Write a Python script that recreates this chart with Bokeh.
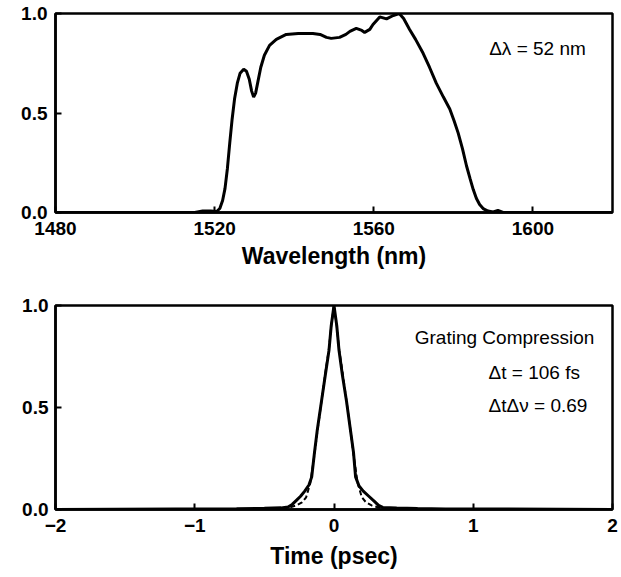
from bokeh.plotting import figure
from bokeh.layouts import column
from bokeh.models import Range1d, FixedTicker, Label
from bokeh.embed import file_html
from bokeh.resources import INLINE

# ---- Top panel: spectrum ----
wavelength = [1480, 1500, 1515, 1517, 1519, 1520.5, 1521.3, 1522, 1522.6, 1523.2,
              1523.8, 1524.4, 1525.0, 1525.7, 1526.4, 1527.3, 1528.0, 1528.7, 1529.3, 1529.8,
              1530.3, 1530.9, 1531.6, 1532.5, 1533.8, 1535.5, 1538.0, 1541, 1544.7, 1546.5,
              1548.1, 1549.3, 1551.4, 1553, 1554.0, 1555.6, 1557.0, 1557.7, 1559.0, 1559.8,
              1561.5, 1563.2, 1564.9, 1566.4, 1567.5, 1569.0, 1570.5, 1572.4, 1574, 1575.7,
              1577.5, 1579.1, 1580.2, 1581.2, 1582.3, 1583.3, 1584.2, 1585.0, 1585.8, 1586.6,
              1587.6, 1588.7, 1590, 1591.2, 1592.5, 1600, 1620]
spectrum = [0.0, 0.0, 0.0, 0.008, 0.008, 0.005, 0.02, 0.06, 0.12, 0.22,
            0.35, 0.47, 0.57, 0.65, 0.70, 0.72, 0.71, 0.67, 0.61, 0.58,
            0.60, 0.66, 0.73, 0.79, 0.84, 0.87, 0.895, 0.90, 0.90, 0.895,
            0.88, 0.875, 0.88, 0.895, 0.91, 0.925, 0.915, 0.905, 0.92, 0.945,
            0.983, 0.973, 0.99, 1.0, 0.975, 0.92, 0.87, 0.80, 0.73, 0.65,
            0.58, 0.52, 0.46, 0.40, 0.32, 0.235, 0.17, 0.115, 0.07, 0.04,
            0.018, 0.007, 0.003, 0.01, 0.0, 0.0, 0.0]
wl_ticks = [1480, 1520, 1560, 1600]
y_ticks = [0.0, 0.5, 1.0]
y_tick_labels = {0.0: "0.0", 0.5: "0.5", 1.0: "1.0"}

# ---- Bottom panel: autocorrelation ----
t_meas = [-2.0, -0.7, -0.5, -0.38, -0.33, -0.30, -0.27, -0.24, -0.21, -0.18,
          -0.16, -0.14, -0.12, -0.09, -0.06, -0.036, -0.02, 0.0, 0.02, 0.036,
          0.06, 0.09, 0.12, 0.14, 0.155, 0.18, 0.21, 0.25, 0.29, 0.32,
          0.35, 0.45, 0.6, 0.8, 2.0]
ac_meas = [0.0, 0.004, 0.006, 0.008, 0.012, 0.025, 0.045, 0.065, 0.09, 0.12,
           0.16, 0.28, 0.39, 0.53, 0.67, 0.78, 0.9, 1.0, 0.9, 0.78,
           0.66, 0.53, 0.38, 0.28, 0.16, 0.115, 0.09, 0.065, 0.04, 0.02,
           0.01, 0.007, 0.005, 0.003, 0.0]
t_fit = [-0.6, -0.4, -0.32, -0.27, -0.23, -0.2, -0.17, -0.14, -0.12, -0.09,
         -0.06, -0.036, -0.02, 0.0, 0.02, 0.036, 0.06, 0.09, 0.12, 0.14,
         0.17, 0.2, 0.23, 0.27, 0.32, 0.4, 0.6]
ac_fit = [0.0, 0.003, 0.01, 0.02, 0.035, 0.06, 0.13, 0.27, 0.38, 0.53,
          0.68, 0.79, 0.9, 1.0, 0.9, 0.79, 0.68, 0.53, 0.38, 0.27,
          0.13, 0.06, 0.035, 0.02, 0.01, 0.003, 0.0]
t_ticks = [-2, -1, 0, 1, 2]

FONT = "Liberation Sans"


def style(p, xticks, xlabel, ystandoff, title_standoff):
    p.outline_line_color = "black"
    p.outline_line_width = 2.5
    p.grid.visible = False
    p.background_fill_color = "white"
    p.border_fill_color = "white"
    for ax in (p.xaxis[0], p.yaxis[0]):
        ax.axis_line_color = "black"
        ax.axis_line_width = 2.5
        ax.major_tick_in = 6
        ax.major_tick_out = 0
        ax.major_tick_line_width = 2
        ax.major_tick_line_color = "black"
        ax.minor_tick_line_color = None
        ax.major_label_text_font = FONT
        ax.major_label_text_font_style = "bold"
        ax.major_label_text_font_size = "19px"
        ax.major_label_text_color = "black"
    p.xaxis[0].ticker = FixedTicker(ticks=xticks)
    p.yaxis[0].ticker = FixedTicker(ticks=y_ticks)
    p.yaxis[0].major_label_overrides = y_tick_labels
    p.xaxis[0].major_label_standoff = 9
    p.yaxis[0].major_label_standoff = ystandoff
    p.xaxis[0].axis_label = xlabel
    p.xaxis[0].axis_label_text_font = FONT
    p.xaxis[0].axis_label_text_font_style = "bold"
    p.xaxis[0].axis_label_text_font_size = "23px"
    p.xaxis[0].axis_label_text_color = "black"
    p.xaxis[0].axis_label_standoff = title_standoff


top = figure(frame_width=557, frame_height=199,
             min_border_left=50, min_border_right=14,
             min_border_top=13, min_border_bottom=78,
             x_range=Range1d(1480, 1620), y_range=Range1d(0, 1.0),
             output_backend="svg", toolbar_location=None)
style(top, wl_ticks, "Wavelength (nm)", 8, 5)
top.line(wavelength, spectrum, line_color="black", line_width=3)
top.add_layout(Label(x=1589, y=0.825, text="Δλ = 52 nm", text_font=FONT,
                     text_font_size="19px", text_baseline="middle",
                     text_color="black"))

bot = figure(frame_width=557, frame_height=204,
             min_border_left=55, min_border_right=9,
             min_border_top=15, min_border_bottom=68,
             x_range=Range1d(-2, 2), y_range=Range1d(0, 1.0),
             output_backend="svg", toolbar_location=None)
style(bot, t_ticks, "Time (psec)", 7, 8)
bot.line(t_fit, ac_fit, line_color="black", line_width=2, line_dash="5 3")
bot.line(t_meas, ac_meas, line_color="black", line_width=3)
bot.add_layout(Label(x=0.58, y=0.843, text="Grating Compression", text_font=FONT,
                     text_font_size="19px", text_baseline="middle", text_color="black"))
bot.add_layout(Label(x=1.11, y=0.672, text="Δt = 106 fs", text_font=FONT,
                     text_font_size="19px", text_baseline="middle", text_color="black"))
bot.add_layout(Label(x=1.11, y=0.51, text="ΔtΔν  = 0.69", text_font=FONT,
                     text_font_size="19px", text_baseline="middle", text_color="black"))

layout = column(top, bot, spacing=0)
open("out.html", "w").write(file_html(layout, INLINE))
